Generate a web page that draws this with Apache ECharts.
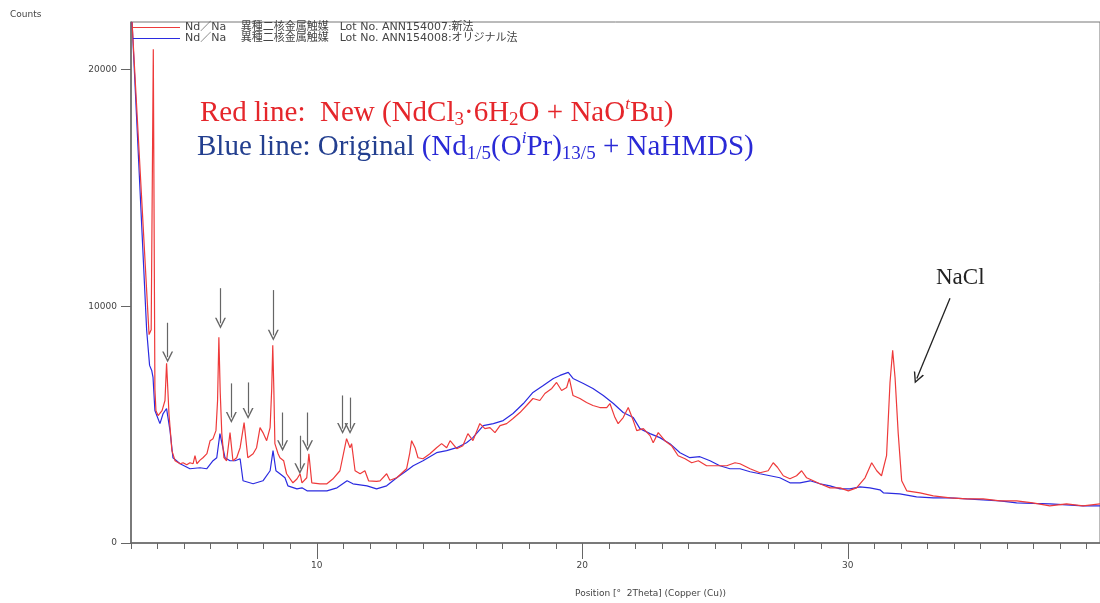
<!DOCTYPE html>
<html>
<head>
<meta charset="utf-8">
<script src="https://cdn.jsdelivr.net/npm/echarts@6/dist/echarts.min.js"></script>
<style>
  html, body { margin: 0; padding: 0; background: #fff; }
  #main { width: 1100px; height: 603px; }
</style>
</head>
<body>
<div id="main"></div>
<script>
// series names (legend)
var nameNew = 'Nd／Na　 異種二核金属触媒　Lot No. ANN154007:新法';
var nameOrig = 'Nd／Na　 異種二核金属触媒　Lot No. ANN154008:オリジナル法';

// [2theta, counts]
var redData = [
  [3.04, 22000], [3.68, 8800], [3.76, 9000], [3.84, 20850], [3.90, 6500], [3.94, 5590],
  [4.02, 5381], [4.17, 5593], [4.28, 6017], [4.34, 7584], [4.43, 5466], [4.54, 3898],
  [4.66, 3474], [4.85, 3347], [4.96, 3390], [5.10, 3300], [5.22, 3390], [5.34, 3347],
  [5.41, 3686], [5.48, 3347], [5.60, 3500], [5.71, 3601], [5.86, 3771], [5.98, 4322],
  [6.09, 4407], [6.20, 4745], [6.26, 6000], [6.31, 8686], [6.36, 6400], [6.42, 4618],
  [6.50, 3601], [6.60, 3474], [6.73, 4661], [6.84, 3474], [6.98, 3601], [7.11, 4025],
  [7.26, 5084], [7.40, 3601], [7.60, 3771], [7.73, 4025], [7.86, 4873], [7.97, 4661],
  [8.11, 4322], [8.24, 4873], [8.30, 6500], [8.34, 8350], [8.38, 6500], [8.42, 4195],
  [8.54, 3771], [8.61, 3601], [8.68, 3650], [8.75, 3474], [8.86, 2924], [9.10, 2542],
  [9.25, 2700], [9.37, 2924], [9.44, 2542], [9.62, 2754], [9.70, 3771], [9.81, 2542],
  [10.12, 2500], [10.38, 2500], [10.60, 2700], [10.87, 3051], [11.12, 4407], [11.25, 4025],
  [11.31, 4195], [11.44, 3051], [11.63, 2924], [11.81, 3051], [11.95, 2627], [12.25, 2600],
  [12.38, 2627], [12.63, 2924], [12.75, 2650], [13.01, 2754], [13.38, 3135], [13.50, 3800],
  [13.57, 4322], [13.70, 4025], [13.81, 3601], [14.00, 3559], [14.26, 3771], [14.51, 4025],
  [14.70, 4195], [14.89, 4025], [15.02, 4322], [15.27, 3983], [15.50, 4110], [15.69, 4618],
  [15.88, 4322], [16.14, 5042], [16.33, 4830], [16.52, 4873], [16.71, 4661], [16.90, 4957],
  [17.15, 5042], [17.39, 5254], [17.65, 5508], [17.90, 5805], [18.14, 6101], [18.40, 6017],
  [18.59, 6313], [18.85, 6525], [19.03, 6779], [19.22, 6440], [19.41, 6567], [19.51, 6949],
  [19.65, 6228], [19.91, 6101], [20.16, 5932], [20.40, 5805], [20.66, 5720], [20.92, 5720],
  [21.04, 5889], [21.23, 5296], [21.35, 5042], [21.54, 5296], [21.73, 5720], [21.92, 5169],
  [22.05, 4745], [22.30, 4830], [22.55, 4534], [22.67, 4237], [22.86, 4661], [23.11, 4322],
  [23.36, 4110], [23.61, 3686], [23.87, 3559], [24.12, 3390], [24.37, 3474], [24.68, 3262],
  [25.06, 3262], [25.44, 3262], [25.75, 3390], [25.94, 3347], [26.32, 3135], [26.69, 2966],
  [27.00, 3051], [27.19, 3390], [27.35, 3200], [27.57, 2839], [27.82, 2712], [28.07, 2839],
  [28.26, 3051], [28.45, 2754], [28.70, 2627], [28.95, 2500], [29.33, 2330], [29.71, 2330],
  [30.02, 2203], [30.33, 2330], [30.65, 2754], [30.90, 3390], [31.09, 3051], [31.27, 2839],
  [31.46, 3686], [31.59, 6779], [31.69, 8135], [31.78, 6991], [31.90, 4618], [32.03, 2627],
  [32.22, 2203], [32.72, 2119], [33.22, 1991], [33.85, 1907], [34.48, 1864], [35.10, 1864],
  [35.73, 1780], [36.36, 1780], [36.97, 1695], [37.61, 1568], [38.24, 1652], [38.86, 1568],
  [39.50, 1652]
];

var blueData = [
  [3.04, 22000], [3.59, 8982], [3.70, 7500], [3.78, 7288], [3.83, 6991], [3.90, 5593],
  [4.09, 5042], [4.21, 5466], [4.34, 5678], [4.47, 4745], [4.58, 3601], [4.85, 3347],
  [5.22, 3135], [5.60, 3178], [5.85, 3135], [6.09, 3474], [6.23, 3601], [6.35, 4618],
  [6.54, 3601], [6.73, 3474], [6.92, 3474], [7.11, 3559], [7.22, 2627], [7.60, 2500],
  [7.97, 2627], [8.24, 3051], [8.35, 3898], [8.46, 3051], [8.61, 2924], [8.80, 2754],
  [8.91, 2415], [9.25, 2288], [9.44, 2330], [9.63, 2203], [10.01, 2203], [10.38, 2203],
  [10.76, 2330], [11.14, 2627], [11.36, 2500], [11.89, 2415], [12.25, 2288], [12.63, 2415],
  [13.01, 2754], [13.38, 3051], [13.63, 3262], [14.00, 3474], [14.51, 3813], [14.89, 3898],
  [15.27, 4025], [15.64, 4237], [15.88, 4449], [16.27, 4957], [16.65, 5042], [17.02, 5169],
  [17.39, 5466], [17.78, 5889], [18.14, 6356], [18.53, 6652], [18.91, 6949], [19.16, 7076],
  [19.47, 7203], [19.65, 6949], [20.04, 6737], [20.40, 6525], [20.79, 6228], [21.17, 5889],
  [21.54, 5508], [21.92, 5296], [22.17, 4830], [22.55, 4618], [22.92, 4449], [23.30, 4195],
  [23.68, 3813], [24.05, 3601], [24.43, 3644], [24.81, 3474], [25.18, 3262], [25.56, 3135],
  [25.94, 3135], [26.32, 3008], [26.69, 2924], [27.07, 2839], [27.44, 2754], [27.82, 2542],
  [28.20, 2542], [28.58, 2627], [28.95, 2500], [29.33, 2415], [29.71, 2288], [30.08, 2288],
  [30.46, 2373], [30.83, 2330], [31.21, 2246], [31.34, 2119], [31.96, 2076], [32.59, 1949],
  [33.22, 1907], [33.85, 1907], [34.48, 1864], [35.10, 1822], [35.73, 1780], [36.36, 1695],
  [36.97, 1670], [37.61, 1652], [38.24, 1610], [38.86, 1568], [39.50, 1568]
];

// peak arrows: [2theta, from counts, to counts]
var peakArrows = [
  [4.38, 9300, 7850], [6.37, 10760, 9280], [6.78, 6740, 5300], [7.41, 6780, 5470],
  [8.36, 10680, 8770], [8.71, 5510, 4110], [9.36, 4530, 3140], [9.65, 5510, 4110],
  [10.97, 6230, 4830], [11.25, 6140, 4830]
];
var naclArrow = [[33.85, 10340], [32.60, 6950]];

var xTicks = [10, 20, 30];
var yTicks = [0, 10000, 20000];

var chart = echarts.init(document.getElementById('main'));
var openHead = 'path://M5,0 L10,10 L8.6,10 L5,2.8 L1.4,10 L0,10 Z';
var serif = 'Liberation Serif';

var option = {
  animation: false,
  grid: {
    left: 131, right: 0, top: 22, bottom: 60,
    show: true, borderColor: '#777', borderWidth: 1
  },
  legend: {
    orient: 'vertical',
    left: 133, top: 22,
    itemGap: 0,
    itemWidth: 47, itemHeight: 1,
    icon: 'rect',
    padding: 0,
    textStyle: { fontSize: 11, lineHeight: 9, color: '#444', fontFamily: 'DejaVu Sans, Noto Sans CJK JP' },
    data: [nameNew, nameOrig]
  },
  xAxis: [{
    type: 'value', min: 3, max: 39.5, interval: 1,
    axisLine: { lineStyle: { color: '#666', width: 1.5 } },
    axisTick: { length: 6, lineStyle: { color: '#666' } },
    axisLabel: { show: false },
    splitLine: { show: false }
  }, {
    type: 'value', min: 3, max: 39.5, position: 'bottom',
    axisLine: { show: false },
    axisTick: { customValues: xTicks, length: 16, lineStyle: { color: '#666' } },
    axisLabel: { customValues: xTicks, margin: 18, fontSize: 9, color: '#444', fontFamily: 'DejaVu Sans' },
    splitLine: { show: false },
    name: 'Position [°  2Theta] (Copper (Cu))',
    nameLocation: 'middle', nameGap: 46,
    nameTextStyle: { fontSize: 9, color: '#444', fontFamily: 'DejaVu Sans', padding: [0, 0, 0, 70] }
  }],
  yAxis: {
    type: 'value', min: 0, max: 22000,
    axisLine: { show: true, lineStyle: { color: '#666', width: 1.5 } },
    axisTick: { show: true, customValues: yTicks, length: 10, lineStyle: { color: '#666' } },
    axisLabel: {
      customValues: yTicks, margin: 14, fontSize: 9, color: '#444', fontFamily: 'DejaVu Sans',
      formatter: function (v) { return String(v); }
    },
    splitLine: { show: false }
  },
  graphic: [{
    type: 'text', left: 10, top: 10,
    style: { text: 'Counts', fontSize: 9, fill: '#444', fontFamily: 'DejaVu Sans' }
  }, {
    type: 'text', left: 200, top: 96,
    style: {
      text: '{r|Red line:  New (NdCl}{rs|3}{r|·6H}{rs|2}{r|O + NaO}{rp|t}{r|Bu)}',
      rich: {
        r: { fontSize: 29, lineHeight: 34, fill: '#e5262b', fontFamily: serif },
        rs: { fontSize: 19, lineHeight: 16, verticalAlign: 'bottom', fill: '#e5262b', fontFamily: serif },
        rp: { fontSize: 17, lineHeight: 22, verticalAlign: 'top', fontStyle: 'italic', fill: '#e5262b', fontFamily: serif }
      }
    }
  }, {
    type: 'text', left: 197, top: 130,
    style: {
      text: '{b|Blue line: Original }{c|(Nd}{cs|1/5}{c|(O}{cp|i}{c|Pr)}{cs|13/5}{c| + NaHMDS)}',
      rich: {
        b: { fontSize: 29, lineHeight: 34, fill: '#233f8f', fontFamily: serif },
        c: { fontSize: 29, lineHeight: 34, fill: '#2a2ad6', fontFamily: serif },
        cs: { fontSize: 19, lineHeight: 16, verticalAlign: 'bottom', fill: '#2a2ad6', fontFamily: serif },
        cp: { fontSize: 17, lineHeight: 22, verticalAlign: 'top', fontStyle: 'italic', fill: '#2a2ad6', fontFamily: serif }
      }
    }
  }, {
    type: 'text', left: 936, top: 266,
    style: { text: 'NaCl', fontSize: 23, fill: '#222', fontFamily: serif }
  }],
  series: [{
    name: nameNew,
    type: 'line',
    data: redData,
    showSymbol: false, symbol: 'none',
    z: 3,
    lineStyle: { color: '#ee3a3a', width: 1.2 },
    itemStyle: { color: '#ee3a3a' },
    markLine: {
      silent: true,
      symbol: ['none', openHead],
      symbolSize: [11, 11],
      label: { show: false },
      lineStyle: { color: '#666', width: 1.2, type: 'solid' },
      data: peakArrows.map(function (a) {
        return [{ coord: [a[0], a[1]] }, { coord: [a[0], a[2]] }];
      }).concat([[
        { coord: naclArrow[0], lineStyle: { color: '#222', width: 1.3, type: 'solid' } },
        { coord: naclArrow[1] }
      ]])
    }
  }, {
    name: nameOrig,
    type: 'line',
    data: blueData,
    showSymbol: false, symbol: 'none',
    z: 2,
    lineStyle: { color: '#2b2be0', width: 1.2 },
    itemStyle: { color: '#2b2be0' }
  }]
};

chart.setOption(option);
</script>
</body>
</html>
